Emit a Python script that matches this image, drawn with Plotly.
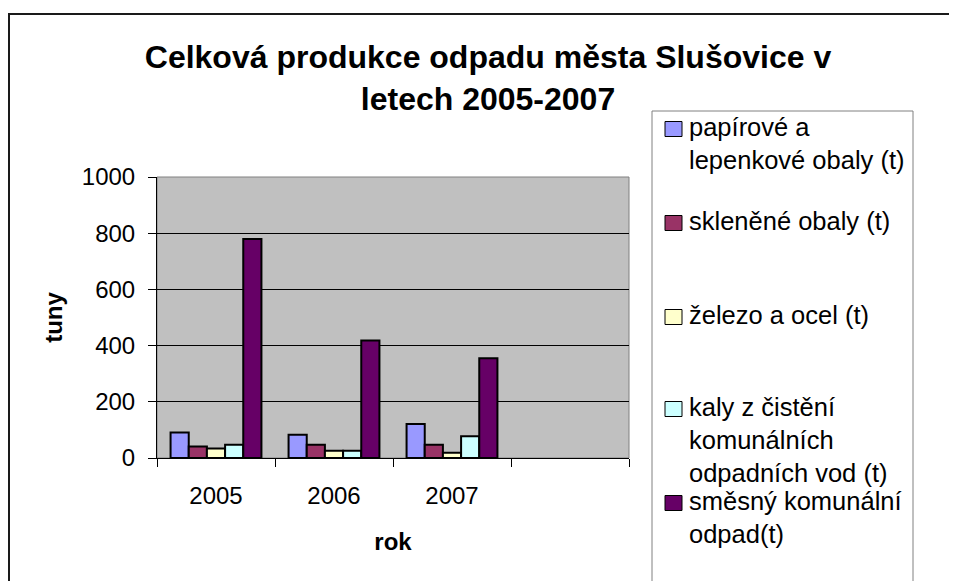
import plotly.graph_objects as go

# ---- data ----
years = ["2005", "2006", "2007", " "]
series_names = [
    "papírové a lepenkové obaly (t)",
    "skleněné obaly (t)",
    "železo a ocel (t)",
    "kaly z čistění komunálních odpadních vod (t)",
    "směsný komunální odpad(t)",
]
legend_labels = [
    "papírové a<br>lepenkové obaly (t)",
    "skleněné obaly (t)",
    "železo a ocel (t)",
    "kaly z čistění<br>komunálních<br>odpadních vod (t)",
    "směsný komunální<br>odpad(t)",
]
papir = [91, 83, 121]
sklo = [41, 47, 47]
zelezo = [34, 26, 19]
kaly = [47, 26, 77]
smesny = [779, 418, 355]
values = [papir, sklo, zelezo, kaly, smesny]
colors = ["#9999FF", "#993366", "#FFFFCC", "#CCFFFF", "#660066"]
title_text = "Celková produkce odpadu města Slušovice v<br>letech 2005-2007"
y_ticks = [0, 200, 400, 600, 800, 1000]

# page body has an 8px default margin -> work in reference pixels and shift
OFF = 8
W, H = 957 - OFF, 581 - OFF
PL, PR, PT, PB = 157, 629, 177, 458   # plot area in reference pixels
FONT = "Liberation Sans, Arial, sans-serif"


def px_x(p):
    return (p - PL) / (PR - PL)


def px_y(p):
    return (PB - p) / (PB - PT)


fig = go.Figure()
for name, vals, col in zip(series_names, values, colors):
    fig.add_trace(go.Bar(
        x=years[:3], y=vals, name=name,
        marker=dict(color=col, line=dict(color="black", width=2)),
        showlegend=False,
    ))

shapes = []
annotations = []

# plot area border (gray)
shapes.append(dict(type="rect", xref="paper", yref="paper", x0=0, x1=1, y0=0, y1=1,
                   line=dict(color="#808080", width=1), layer="below"))
# outer chart border
shapes.append(dict(type="rect", xref="paper", yref="paper",
                   x0=px_x(9), x1=px_x(1000), y0=px_y(630), y1=px_y(14),
                   line=dict(color="#1a1a1a", width=2)))
# legend box
shapes.append(dict(type="rect", xref="paper", yref="paper",
                   x0=px_x(652), x1=px_x(913), y0=px_y(640), y1=px_y(111),
                   line=dict(color="#808080", width=1), fillcolor="white"))

item_y = [128, 222, 316, 408, 502]
for lab, col, yc in zip(legend_labels, colors, item_y):
    shapes.append(dict(type="rect", xref="paper", yref="paper",
                       x0=px_x(665), x1=px_x(682), y0=px_y(yc + 8.5), y1=px_y(yc - 6.5),
                       fillcolor=col, line=dict(color="black", width=1)))
    annotations.append(dict(xref="paper", yref="paper", x=px_x(687), y=px_y(yc - 17),
                            xanchor="left", yanchor="top", align="left", showarrow=False,
                            text=lab, font=dict(family=FONT, size=25.5, color="black")))

fig.update_layout(
    width=W, height=H,
    margin=dict(l=PL - OFF, r=W - (PR - OFF), t=PT - OFF, b=H - (PB - OFF), pad=0),
    paper_bgcolor="white",
    plot_bgcolor="#C0C0C0",
    barmode="group",
    bargap=0.23,
    bargroupgap=0,
    font=dict(family=FONT, size=24, color="black"),
    title=dict(text=title_text, x=(488 - OFF) / W, xanchor="center",
               y=1 - (68 - OFF) / H, yanchor="middle",
               font=dict(family=FONT, size=32, color="black", weight="bold")),
    shapes=shapes,
    annotations=annotations,
    xaxis=dict(
        type="category", categoryorder="array", categoryarray=years,
        range=[-0.5, 3.5], tickmode="array", tickvals=years, ticktext=years,
        tickson="boundaries", ticks="outside", ticklen=8, tickcolor="black",
        showline=True, linecolor="black", linewidth=1, showgrid=False,
        tickfont=dict(family=FONT, size=24), ticklabelstandoff=16,
        title=dict(text="<b>rok</b>", font=dict(family=FONT, size=24), standoff=25),
    ),
    yaxis=dict(
        range=[0, 1000], tickmode="array", tickvals=y_ticks,
        ticks="outside", ticklen=8, tickcolor="black",
        showline=True, linecolor="black", linewidth=1,
        showgrid=True, gridcolor="black", gridwidth=1,
        zeroline=True, zerolinecolor="black", zerolinewidth=1,
        tickfont=dict(family=FONT, size=24), ticklabelstandoff=8,
        title=dict(text="<b>tuny</b>", font=dict(family=FONT, size=24), standoff=12),
    ),
)

fig.write_html("out.html")
